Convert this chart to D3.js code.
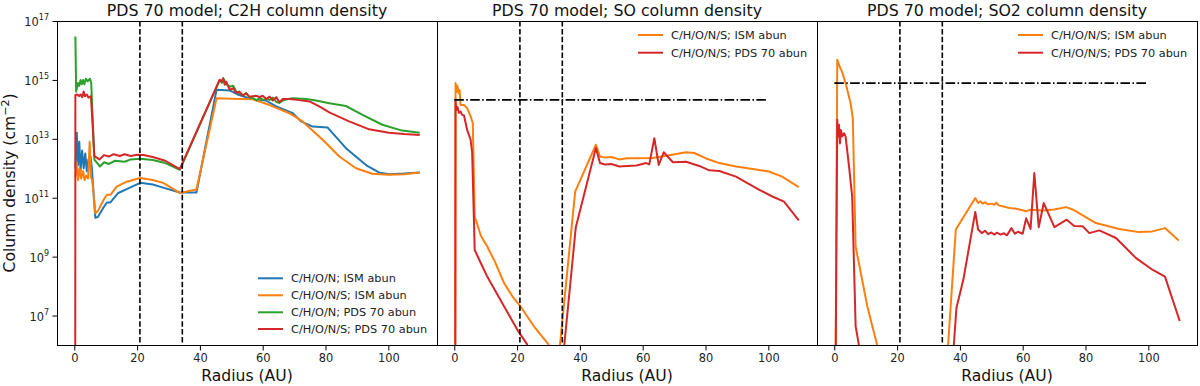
<!DOCTYPE html>
<html>
<head>
<meta charset="utf-8">
<script src="https://cdn.jsdelivr.net/npm/d3@7"></script>
<style>
  body { margin: 0; background: #fff; }
  svg { font-family: "DejaVu Sans", sans-serif; }
</style>
</head>
<body>
<div class="container"></div>
<script>
// axis ticks
var radiusTicks = [0, 20, 40, 60, 80, 100];
var densityTicks = [1e7, 1e9, 1e11, 1e13, 1e15, 1e17];
var planetRadii = [20.9, 34.4];

// C2H column density, [radius AU, cm^-2]
var c2hIsmCHON = [[0.35,1.0e12],[0.8,1.6e13],[1.2,1.3e12],[1.6,7.9e12],[2.0,7.9e11],[2.5,4.0e12],[3.0,1.0e12],[3.5,3.2e12],[4.0,7.9e11],[4.5,2.0e12],[5.2,2.5e12],[5.6,1.0e12],[6.7,2.1e10],[7.5,2.2e10],[9.5,5.0e10],[10.4,6.9e10],[11.5,6.9e10],[14,1.45e11],[16.7,1.95e11],[21,3.2e11],[25,2.8e11],[28.3,2.2e11],[33.6,1.5e11],[38.9,1.5e11],[45.3,4.6e14],[49.5,4.4e14],[52,3.2e14],[55,2.5e14],[58,2.1e14],[61,2.0e14],[64.3,1.26e14],[69.6,7.4e13],[72.2,3.9e13],[75.9,2.6e13],[80.7,2.4e13],[86.5,4.8e12],[93.3,1.2e12],[97,7.2e11],[100.2,6.3e11],[105,6.6e11],[110,7.2e11]];
var c2hIsmCHONS = [[0.35,5.0e11],[0.8,1.6e12],[1.2,4.0e11],[1.7,1.0e12],[2.2,4.5e11],[2.8,7.9e11],[3.3,4.0e11],[3.8,5.6e11],[4.4,4.5e11],[4.9,7.9e12],[5.3,5.0e11],[5.7,4.0e11],[6.7,3.0e10],[7.5,3.5e10],[9.5,9.0e10],[10.4,1.26e11],[11.5,1.26e11],[13.5,2.4e11],[16.7,3.5e11],[21,4.7e11],[25,4.0e11],[28.3,3.2e11],[33.6,1.45e11],[38.9,1.9e11],[45.3,2.4e14],[50,2.3e14],[56.9,2.2e14],[62.2,1.4e14],[68.5,7.4e13],[72.7,3.9e13],[79.1,9.3e12],[84.4,2.5e12],[89.7,1.0e12],[94.9,6.5e11],[100.2,6.0e11],[105,6.3e11],[110,7.2e11]];
var c2hPdsCHON = [[0.35,3.0e16],[0.6,4.0e14],[1.2,7.9e14],[1.6,6.3e14],[2.0,1.0e15],[2.4,7.1e14],[2.8,1.0e15],[3.2,7.1e14],[3.7,1.1e15],[4.3,8.9e14],[5.0,1.1e15],[5.4,7.9e14],[6.4,1.95e12],[8.2,1.15e12],[9.5,1.6e12],[11,1.4e12],[13,1.8e12],[16,1.66e12],[18,2.0e12],[21,2.1e12],[25,1.9e12],[29,1.5e12],[33.6,8.9e11],[45.5,6.3e14],[46.3,1.0e15],[47,7.9e14],[47.7,1.05e15],[48.4,7.1e14],[49.5,5.9e14],[50.6,6.3e14],[51.6,4.0e14],[52.6,3.55e14],[53.7,3.0e14],[54.7,3.55e14],[55.8,2.5e14],[57,2.4e14],[58,2.0e14],[59,2.5e14],[60,2.1e14],[61.1,2.24e14],[62.2,2.1e14],[63.2,2.5e14],[64.3,1.78e14],[65.3,1.66e14],[66.4,2.0e14],[68,2.24e14],[69.6,2.4e14],[73.8,2.24e14],[77,2.0e14],[81.2,1.6e14],[86.5,1.3e14],[91.8,6.5e13],[98.1,3.0e13],[104.4,1.9e13],[110,1.6e13]];
var c2hPdsCHONS = [[0.3,1e3],[0.35,3.1e14],[1,3.2e14],[1.5,2.8e14],[2,3.2e14],[2.5,2.6e14],[3,4.0e14],[3.4,2.8e14],[4,3.2e14],[4.5,2.5e14],[5.3,2.8e14],[6.4,2.6e12],[8,2.0e12],[9.5,2.8e12],[11,2.5e12],[12.5,3.0e12],[14.5,2.6e12],[16,3.0e12],[18,2.6e12],[20,2.9e12],[22,2.8e12],[25,2.4e12],[29,1.8e12],[33.6,9.3e11],[45.8,7.8e14],[46.3,1.0e15],[46.8,8.7e14],[47.4,1.15e15],[47.9,6.8e14],[48.4,8.7e14],[49.5,4.6e14],[50.6,5.2e14],[51.6,3.55e14],[52.6,4.0e14],[53.7,2.9e14],[54.7,3.55e14],[55.8,2.7e14],[57.9,2.9e14],[59,2.6e14],[60,2.9e14],[61.1,2.24e14],[62.2,2.7e14],[63.2,2.0e14],[64.3,2.6e14],[65.3,1.74e14],[66.4,2.24e14],[68.5,2.24e14],[71,2.1e14],[74.9,1.86e14],[78,1.26e14],[81.2,7.9e13],[87.5,3.9e13],[93.9,2.1e13],[100.2,1.6e13],[105,1.45e13],[110,1.35e13]];

// SO column density
var soIsmCHONS = [[0.3,1e3],[0.4,7.8e14],[0.8,4.0e14],[1.0,6.3e14],[1.4,3.5e14],[1.7,4.5e14],[2.0,1.4e14],[3.1,1.4e14],[4.1,1.1e14],[5.2,5.8e13],[5.9,3.4e13],[6.5,2.3e10],[8.5,5.0e9],[10.5,2.2e9],[13,6.5e8],[15.8,1.3e8],[18.5,4.5e7],[21,2.1e7],[25.3,4.4e6],[30,1.05e6],[31,2e5],[33,2e5],[38.5,1.6e11],[45.1,6.3e12],[46.4,2.5e12],[48,2.3e12],[50,2.4e12],[52.6,2.0e12],[55,2.2e12],[58,2.2e12],[63.2,2.24e12],[68,2.7e12],[73.8,3.5e12],[76.4,3.3e12],[80,2.2e12],[84.4,1.5e12],[89.7,1.15e12],[95,9.5e11],[100.2,7.8e11],[104.4,5.2e11],[109.7,2.3e11]];
var soPdsCHONS = [[0.3,1e3],[0.4,1.9e14],[0.7,9.5e13],[1.0,1.2e14],[1.5,7.6e13],[2.0,8.5e13],[2.5,6.5e13],[3.1,6.2e13],[4.1,2.0e13],[5.2,9.3e12],[5.7,3.3e12],[6.5,1.7e9],[8.4,6.2e8],[10.5,2.1e8],[11.6,1.3e8],[15.8,2.1e7],[20,3.4e6],[23.2,1.05e6],[24,2e5],[34.4,2e5],[38.7,1.0e10],[45.1,4.9e12],[46.4,1.5e12],[48,1.35e12],[50,1.4e12],[52.6,1.15e12],[55,1.2e12],[58,1.25e12],[61.1,1.5e12],[62.1,1.35e12],[63.7,1.05e13],[65.1,1.3e12],[66.7,3.5e12],[69.6,1.6e12],[73.8,1.66e12],[78,1.2e12],[81.2,8.5e11],[84.4,8.1e11],[89.7,5.2e11],[97,1.9e11],[101.3,1.1e11],[105,7.4e10],[109.7,1.7e10]];

// SO2 column density
var so2IsmCHONS = [[0.3,1e3],[0.95,4.8e15],[1.9,2.5e15],[2.4,2.0e15],[3.6,7.8e14],[5.2,1.6e14],[5.9,5.0e13],[6.8,2.2e9],[10.5,2.1e7],[11.6,7.2e6],[13.6,1.05e6],[14.5,2e5],[35.8,2e5],[38.7,8.3e9],[44.9,9.8e10],[45.8,6.6e10],[46.5,7.6e10],[47.2,6.3e10],[48,6.9e10],[49,6.0e10],[50,6.3e10],[51,5.8e10],[51.6,6.8e10],[52.3,5.5e10],[55.8,4.5e10],[58,4.2e10],[61.1,3.5e10],[62.5,3.9e10],[66.4,3.7e10],[70,4.0e10],[73.8,4.8e10],[75.9,4.0e10],[83.3,1.38e10],[90.7,8.7e9],[97,6.8e9],[101.3,7.2e9],[105.3,9.3e9],[109.7,3.5e9]];
var so2PdsCHONS = [[0.3,1e3],[0.95,4.4e13],[1.2,1.2e13],[1.5,3.0e13],[1.8,7.0e12],[2.1,2.0e13],[2.5,1.2e13],[3.1,1.55e13],[3.6,1.2e13],[4.7,1.15e12],[5.7,1.1e11],[6.8,4.4e6],[7.8,1.05e6],[8.3,2e5],[37.6,2e5],[38.9,1.8e7],[41.1,1.66e8],[44.9,3.3e10],[45.8,8.3e9],[47,6.3e9],[48,7.6e9],[49,5.8e9],[50,6.6e9],[51,5.6e9],[51.7,6.5e9],[53,5.6e9],[54,6.2e9],[55,5.3e9],[56.4,9.3e9],[57.5,6.0e9],[58.5,7.0e9],[60,6.0e9],[61.1,2.0e10],[62.5,8.7e9],[63.7,6.9e11],[65.1,1.0e10],[66.7,6.6e10],[70.1,1.0e10],[74,1.8e10],[76.4,1.1e10],[79.1,1.07e10],[81.2,6.3e9],[84.4,7.8e9],[89.7,4.3e9],[96,9.1e8],[101.3,3.6e8],[105.3,2.1e8],[110,6.5e6]];

// dash-dot reference levels (radius 0..100)
var soReference = [[0, 2.1e14], [100, 2.1e14]];
var so2Reference = [[0, 7.8e14], [100, 7.8e14]];

var panels = [
  {title: "PDS 70 model; C2H column density", legendTop: false, ref: null, series: [
    {data: c2hIsmCHON, color: "#1f77b4", label: "C/H/O/N; ISM abun"},
    {data: c2hIsmCHONS, color: "#ff7f0e", label: "C/H/O/N/S; ISM abun"},
    {data: c2hPdsCHON, color: "#2ca02c", label: "C/H/O/N; PDS 70 abun"},
    {data: c2hPdsCHONS, color: "#d62728", label: "C/H/O/N/S; PDS 70 abun"}]},
  {title: "PDS 70 model; SO column density", legendTop: true, ref: soReference, series: [
    {data: soIsmCHONS, color: "#ff7f0e", label: "C/H/O/N/S; ISM abun"},
    {data: soPdsCHONS, color: "#d62728", label: "C/H/O/N/S; PDS 70 abun"}]},
  {title: "PDS 70 model; SO2 column density", legendTop: true, ref: so2Reference, series: [
    {data: so2IsmCHONS, color: "#ff7f0e", label: "C/H/O/N/S; ISM abun"},
    {data: so2PdsCHONS, color: "#d62728", label: "C/H/O/N/S; PDS 70 abun"}]}
];

var margin = {top: 21, left: 57},
    width = 380,
    height = 324;

var svg = d3.select(".container")
  .append("svg")
    .attr("width", 1200)
    .attr("height", 386);

var x = d3.scaleLinear().domain([-5.5, 115.5]).range([0, width]);
var y = d3.scaleLog().domain([1e6, 1e17]).range([height, 0]);

var line = d3.line()
  .x(function(d) { return x(d[0]); })
  .y(function(d) { return y(d[1]); });

var defs = svg.append("defs");
defs.append("clipPath").attr("id", "plotClip")
  .append("rect").attr("width", width).attr("height", height);

panels.forEach(function(p, i) {
  var g = svg.append("g")
    .attr("transform", "translate(" + (margin.left + i * width) + "," + margin.top + ")");

  var plot = g.append("g").attr("clip-path", "url(#plotClip)");

  p.series.forEach(function(s) {
    plot.append("path")
      .datum(s.data)
      .attr("d", line)
      .attr("fill", "none")
      .attr("stroke", s.color)
      .attr("stroke-width", 2)
      .attr("stroke-linejoin", "round");
  });

  // planet positions
  planetRadii.forEach(function(r) {
    plot.append("line")
      .attr("x1", x(r)).attr("x2", x(r))
      .attr("y1", 0).attr("y2", height)
      .attr("stroke", "black")
      .attr("stroke-width", 1.6)
      .attr("stroke-dasharray", "5.5,2.4");
  });

  if (p.ref) {
    plot.append("path")
      .datum(p.ref)
      .attr("d", line)
      .attr("fill", "none")
      .attr("stroke", "black")
      .attr("stroke-width", 1.6)
      .attr("stroke-dasharray", "9.6,2.4,1.5,2.4");
  }

  // frame
  g.append("rect")
    .attr("x", 0.5).attr("y", 0.5)
    .attr("width", width).attr("height", height)
    .attr("fill", "none")
    .attr("stroke", "black")
    .attr("stroke-width", 1);

  var xAxis = g.append("g")
    .attr("transform", "translate(0," + (height + 0.5) + ")")
    .call(d3.axisBottom(x).tickValues(radiusTicks).tickSize(5).tickSizeOuter(0).tickPadding(3));
  xAxis.select(".domain").remove();
  xAxis.selectAll("text").style("font-family", "DejaVu Sans").style("font-size", "11.4px").attr("fill", "#222");

  if (i === 0) {
    var yAxis = g.append("g")
      .attr("transform", "translate(0.5,0)")
      .call(d3.axisLeft(y).tickValues(densityTicks).tickSize(5).tickSizeOuter(0).tickPadding(3.5));
    yAxis.select(".domain").remove();
    yAxis.selectAll("text")
      .style("font-family", "DejaVu Sans")
      .style("font-size", "11.4px")
      .attr("fill", "#222")
      .attr("dy", "0.4em")
      .each(function(d) {
        var t = d3.select(this).text("");
        t.append("tspan").text("10");
        t.append("tspan").attr("dy", "-6px").style("font-size", "8px").text(Math.round(Math.log10(d)));
      });

    g.append("text")
      .attr("transform", "translate(" + (15 - margin.left) + "," + (height / 2) + ")rotate(-90)")
      .attr("text-anchor", "middle")
      .style("font-size", "15.6px")
      .attr("fill", "#111")
      .call(function(t) {
        t.append("tspan").text("Column density (cm");
        t.append("tspan").attr("dy", "-6px").style("font-size", "11px").text("\u22122");
        t.append("tspan").attr("dy", "6px").text(")");
      });
  }

  g.append("text")
    .attr("x", width / 2)
    .attr("y", -5.5)
    .attr("text-anchor", "middle")
    .style("font-size", "15.8px")
    .attr("fill", "#111")
    .text(p.title);

  g.append("text")
    .attr("x", width / 2)
    .attr("y", height + 36)
    .attr("text-anchor", "middle")
    .style("font-size", "15.6px")
    .attr("fill", "#111")
    .text("Radius (AU)");

  // legend, no frame
  var rowY = p.legendTop ? [14, 31.7] : [257.3, 274.3, 291.3, 308];
  var legend = g.append("g");
  p.series.forEach(function(s, k) {
    legend.append("line")
      .attr("x1", 201).attr("x2", 226)
      .attr("y1", rowY[k]).attr("y2", rowY[k])
      .attr("stroke", s.color)
      .attr("stroke-width", 2);
    legend.append("text")
      .attr("x", 234)
      .attr("y", rowY[k] + 4)
      .style("font-size", "11.3px")
      .attr("fill", "#222")
      .text(s.label);
  });
});
</script>
</body>
</html>
